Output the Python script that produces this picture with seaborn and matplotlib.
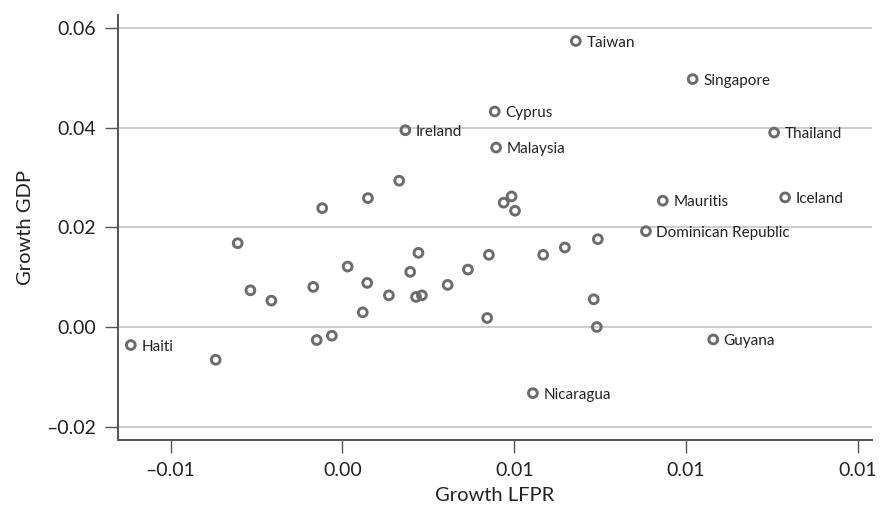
import matplotlib
matplotlib.use("Agg")
import matplotlib.pyplot as plt
import seaborn as sns
import pandas as pd

# Growth in labour-force participation vs. growth in GDP, by country
growth_lfpr = [
    -0.00616, -0.00369, -0.00305, -0.00268, -0.00207, -0.00085, -0.00075,
    -0.00059, -0.00031, 0.00015, 0.00059, 0.00072, 0.00074, 0.00135,
    0.00165, 0.00183, 0.00197, 0.00214, 0.00221, 0.00231, 0.00306,
    0.00365, 0.00421, 0.00426, 0.00443, 0.00447, 0.00469, 0.00492,
    0.00502, 0.00554, 0.00584, 0.00679, 0.00647, 0.00731, 0.00740,
    0.00743, 0.00883, 0.00932, 0.01019, 0.01079, 0.01256, 0.01288,
]
growth_gdp = [
    -0.00362, -0.00658, 0.01683, 0.00737, 0.00530, 0.00805, -0.00262,
    0.02388, -0.00175, 0.01214, 0.00294, 0.00886, 0.02589, 0.00636,
    0.02939, 0.03952, 0.01107, 0.00604, 0.01490, 0.00636, 0.00846,
    0.01154, 0.00181, 0.01450, 0.04329, 0.03604, 0.02497, 0.02623,
    0.02335, -0.01329, 0.01450, 0.05744, 0.01597, 0.00556, 0.00000,
    0.01764, 0.01925, 0.02537, 0.04979, -0.00250, 0.03906, 0.02603,
]
country = [
    "Haiti", "", "", "", "", "", "",
    "", "", "", "", "", "", "",
    "", "Ireland", "", "", "", "", "",
    "", "", "", "Cyprus", "Malaysia", "", "",
    "", "Nicaragua", "", "Taiwan", "", "", "",
    "", "Dominican Republic", "Mauritis", "Singapore", "Guyana", "Thailand", "Iceland",
]

x_ticks = [-0.005, 0.0, 0.005, 0.010, 0.015]
x_tick_labels = ["\u20130.01", "0.00", "0.01", "0.01", "0.01"]
y_ticks = [-0.02, 0.0, 0.02, 0.04, 0.06]
y_tick_labels = ["\u20130.02", "0.00", "0.02", "0.04", "0.06"]

df = pd.DataFrame({"Growth LFPR": growth_lfpr, "Growth GDP": growth_gdp, "country": country})

sns.set_theme(style="white")
plt.rcParams["font.family"] = ["Lato", "DejaVu Sans"]

fig = plt.figure(figsize=(8.8, 5.08), dpi=100)
ax = fig.add_axes([0.1338, 0.1339, 0.8568, 0.8366])

text_col = "#222222"
mark_col = "#6c6c6c"

ax.set_axisbelow(True)
ax.yaxis.grid(True, color="#c4c4c4", linewidth=1.2)
ax.xaxis.grid(False)

sns.scatterplot(
    data=df, x="Growth LFPR", y="Growth GDP", ax=ax,
    marker="o", s=40, facecolors="none", edgecolors=mark_col,
    linewidth=2.1, zorder=3, legend=False,
)

for xv, yv, name in zip(growth_lfpr, growth_gdp, country):
    if name:
        ax.annotate(name, (xv, yv), xytext=(7.5, -1.2), textcoords="offset points",
                    ha="left", va="center", fontsize=11, color=text_col)

ax.set_xlim(-0.00654, 0.01540)
ax.set_ylim(-0.02269, 0.06267)
ax.set_xticks(x_ticks)
ax.set_xticklabels(x_tick_labels)
ax.set_yticks(y_ticks)
ax.set_yticklabels(y_tick_labels)

ax.set_xlabel("Growth LFPR", fontsize=14.5, color=text_col, labelpad=6)
ax.set_ylabel("Growth GDP", fontsize=14.5, color=text_col, labelpad=9)

for side in ["top", "right"]:
    ax.spines[side].set_visible(False)
for side in ["left", "bottom"]:
    ax.spines[side].set_color("#555555")
    ax.spines[side].set_linewidth(1.4)

ax.tick_params(axis="both", which="major", direction="out", length=9.5, width=1.0,
               color="#555555", labelsize=14, labelcolor=text_col, pad=6,
               left=True, bottom=True)

fig.savefig("out.png", dpi=100)
